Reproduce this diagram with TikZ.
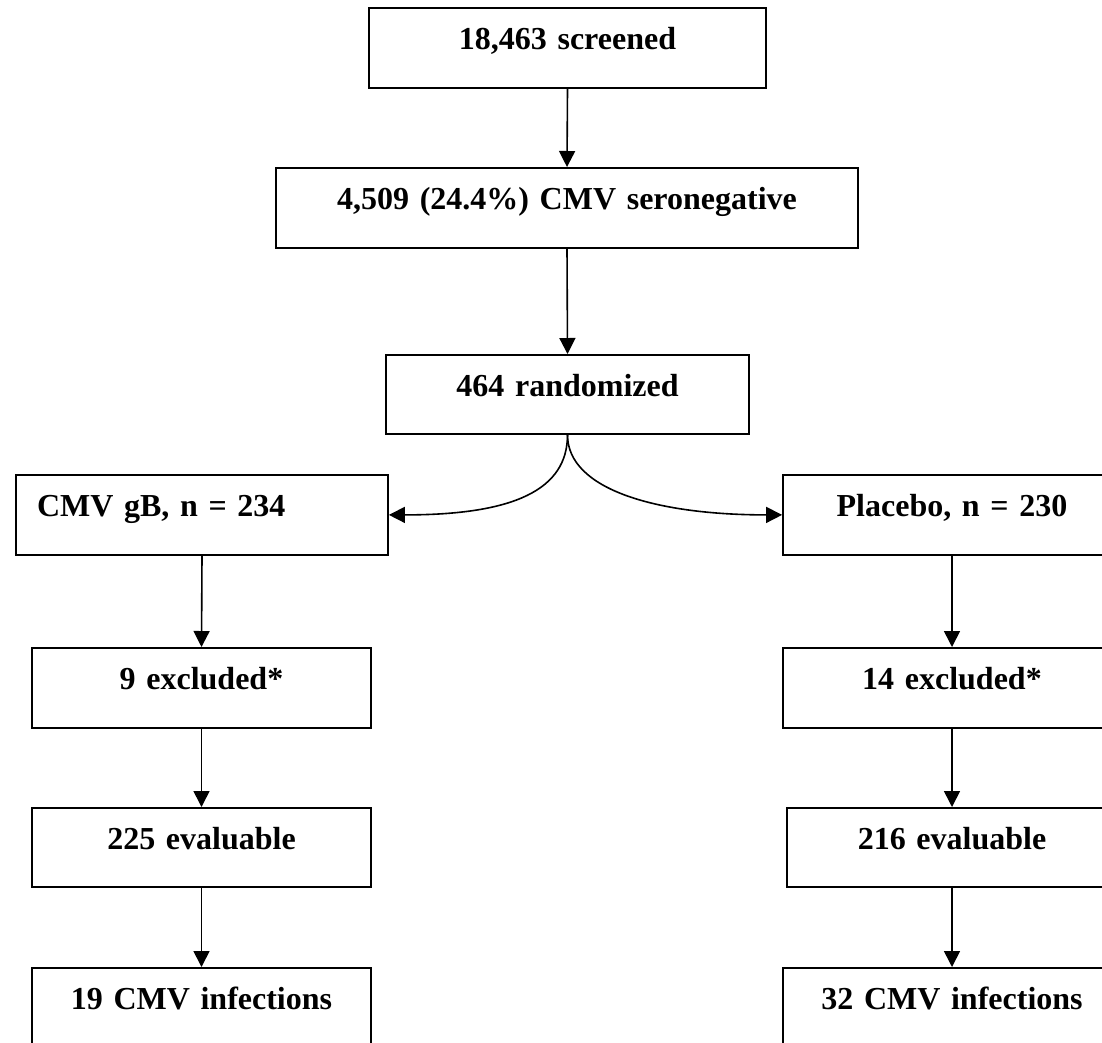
\documentclass[tikz,border=0pt]{standalone}
\usepackage{fontspec}
\setmainfont{Liberation Serif}
\usetikzlibrary{arrows.meta}
\begin{document}
\begin{tikzpicture}[x=1pt,y=-1pt,
  box/.style={draw, line width=1.8pt, inner sep=0pt, anchor=north,
    text height=42pt, text depth=38pt, align=center,
    font=\bfseries\fontsize{32}{38}\selectfont},
  arr/.style={line width=1.6pt, -{Triangle[length=16pt,width=16pt]}}]
\useasboundingbox (0,0) rectangle (1102,1042);
\fill[white] (0,0) rectangle (1102,1042);
\clip (0,0) rectangle (1102,1042);
\node[box, text width=397pt] (b1) at (567.5,7) {18,463 screened};
\node[box, text width=582pt] (b2) at (567,167) {4,509 (24.4\%) CMV seronegative};
\node[box, text width=363pt, text depth=37pt] (b3) at (567.5,354) {464 randomized};
\node[box, text width=330pt, inner xsep=21pt, align=left] (b4) at (202,474) {CMV gB, n = 234};
\node[box, text width=338pt] (b5) at (952,474) {Placebo, n = 230};
\node[box, text width=339pt] (b6) at (201.5,647) {9 excluded*};
\node[box, text width=338pt] (b7) at (952,647) {14 excluded*};
\node[box, text width=339pt, text depth=37pt] (b8) at (201.5,807) {225 evaluable};
\node[box, text width=330pt, text depth=37pt] (b9) at (952,807) {216 evaluable};
\node[box, text width=339pt] (b10) at (201.5,967) {19 CMV infections};
\node[box, text width=338pt] (b11) at (952,967) {32 CMV infections};
\draw[arr] (b1.south) -- (b2.north);
\draw[arr] (b2.south) -- (b3.north);
\draw[arr] (b3.south) .. controls +(0,55) and +(125,0) .. (b4.east);
\draw[arr] (b3.south) .. controls +(0,55) and +(-125,0) .. (b5.west);
\draw[arr] (b4.south) -- (b6.north);
\draw[arr] (b5.south) -- (b7.north);
\draw[arr] (b6.south) -- (b8.north);
\draw[arr] (b7.south) -- (b9.north);
\draw[arr] (b8.south) -- (b10.north);
\draw[arr] (b9.south) -- (b11.north);
\end{tikzpicture}
\end{document}
